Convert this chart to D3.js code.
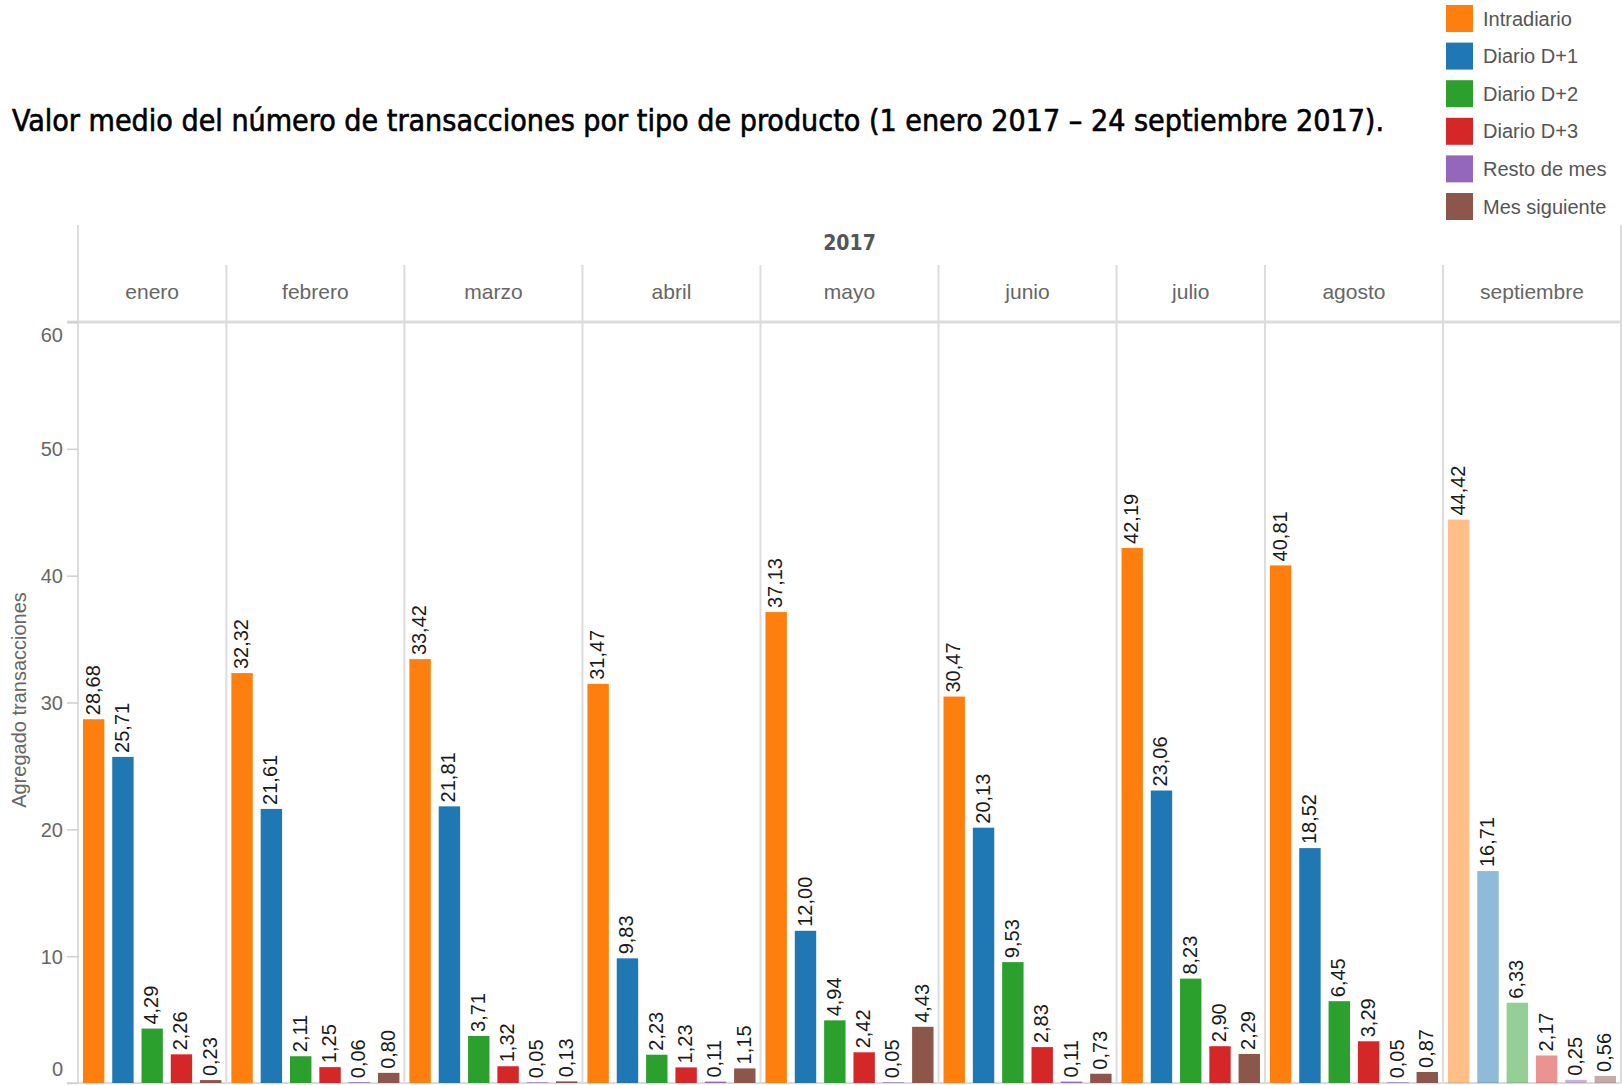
<!DOCTYPE html>
<html>
<head>
<meta charset="utf-8">
<script src="https://cdn.jsdelivr.net/npm/d3@7"></script>
<style>
  html, body { margin: 0; padding: 0; background: #fff; }
  svg { display: block; }
</style>
</head>
<body>
<svg id="chart" width="1622" height="1085"></svg>
<script>
// ---- data ----
const title = "Valor medio del número de transacciones por tipo de producto (1 enero 2017 – 24 septiembre 2017).";
const year = "2017";
const months = ["enero","febrero","marzo","abril","mayo","junio","julio","agosto","septiembre"];
const seriesNames = ["Intradiario","Diario D+1","Diario D+2","Diario D+3","Resto de mes","Mes siguiente"];
const intradiario = [28.68, 32.32, 33.42, 31.47, 37.13, 30.47, 42.19, 40.81, 44.42];
const diarioD1    = [25.71, 21.61, 21.81,  9.83, 12.00, 20.13, 23.06, 18.52, 16.71];
const diarioD2    = [ 4.29,  2.11,  3.71,  2.23,  4.94,  9.53,  8.23,  6.45,  6.33];
const diarioD3    = [ 2.26,  1.25,  1.32,  1.23,  2.42,  2.83,  2.90,  3.29,  2.17];
const restoDeMes  = [ null,  0.06,  0.05,  0.11,  0.05,  0.11,  null,  0.05,  0.25];
const mesSiguiente= [ 0.23,  0.80,  0.13,  1.15,  4.43,  0.73,  2.29,  0.87,  0.56];
const yTicks = [0, 10, 20, 30, 40, 50, 60];
const yTitle = "Agregado transacciones";
const colors = ["#ff7f0e","#1f77b4","#2ca02c","#d62728","#9467bd","#8c564b"];
const fadedMonth = "septiembre";

const seriesValues = [intradiario, diarioD1, diarioD2, diarioD3, restoDeMes, mesSiguiente];

// ---- layout ----
const svg = d3.select("#chart");
const plotL = 78, plotR = 1621, plotT = 322, plotB = 1083;
const headerTop = 225, monthTop = 265;
const SANS = "'Liberation Sans', Arial, sans-serif";
const COND = "'DejaVu Sans Condensed', 'DejaVu Sans', sans-serif";
const gridCol = "#dcdcdc";
const fmt = v => d3.format(".2f")(v).replace(".", ",");

// per-month category lists (only present values)
const panels = months.map((m, mi) => ({
  month: m,
  items: seriesNames.map((s, si) => ({ series: s, si, value: seriesValues[si][mi] }))
                    .filter(d => d.value !== null && d.value !== undefined)
}));
let cum = 0;
panels.forEach(p => { p.start = cum; cum += p.items.length; p.end = cum; });
const slotX = d3.scaleLinear().domain([0, cum]).range([plotL, plotR]);
const y = d3.scaleLinear().domain([0, 60]).range([plotB, plotT]);
const color = d3.scaleOrdinal().domain(seriesNames).range(colors);

// ---- title ----
svg.append("text")
  .attr("x", 12).attr("y", 131)
  .attr("font-family", COND)
  .attr("font-stretch", "condensed")
  .attr("font-size", 30)
  .attr("fill", "#000")
  .attr("stroke", "#000").attr("stroke-width", 0.6)
  .attr("textLength", 1372)
  .attr("lengthAdjust", "spacingAndGlyphs")
  .text(title);

// ---- legend ----
const legend = svg.append("g");
seriesNames.forEach((s, i) => {
  const g = legend.append("g").attr("transform", `translate(1446, ${5 + i * 37.6})`);
  g.append("rect").attr("width", 27).attr("height", 27).attr("fill", color(s));
  g.append("text").attr("x", 37).attr("y", 13.5).attr("dy", "0.35em")
    .attr("font-family", SANS).attr("font-size", 20).attr("fill", "#555").text(s);
});

// ---- frame / header ----
const frame = svg.append("g");
frame.append("line").attr("x1", plotL).attr("x2", plotL).attr("y1", headerTop).attr("y2", plotB)
  .attr("stroke", gridCol).attr("stroke-width", 2);
frame.append("line").attr("x1", plotR).attr("x2", plotR).attr("y1", headerTop).attr("y2", plotB)
  .attr("stroke", gridCol).attr("stroke-width", 2);
panels.slice(1).forEach(p => {
  const x = slotX(p.start);
  frame.append("line").attr("x1", x).attr("x2", x).attr("y1", monthTop).attr("y2", plotB)
    .attr("stroke", gridCol).attr("stroke-width", 2);
});
frame.append("line").attr("x1", 67).attr("x2", plotR).attr("y1", plotT).attr("y2", plotT)
  .attr("stroke", gridCol).attr("stroke-width", 3);
frame.append("line").attr("x1", 67).attr("x2", plotR).attr("y1", plotB).attr("y2", plotB)
  .attr("stroke", gridCol).attr("stroke-width", 2);

svg.append("text")
  .attr("x", (plotL + plotR) / 2).attr("y", 243).attr("dy", "0.35em")
  .attr("text-anchor", "middle")
  .attr("font-family", COND).attr("font-stretch", "condensed").attr("font-weight", "bold").attr("font-size", 21)
  .attr("fill", "#555").text(year);

panels.forEach(p => {
  svg.append("text")
    .attr("x", (slotX(p.start) + slotX(p.end)) / 2).attr("y", 292).attr("dy", "0.35em")
    .attr("text-anchor", "middle")
    .attr("font-family", SANS).attr("font-size", 21)
    .attr("fill", "#666").text(p.month);
});

// ---- y axis ----
const yAxis = svg.append("g").attr("transform", `translate(${plotL},0)`)
  .call(d3.axisLeft(y).tickValues(yTicks).tickSize(11).tickPadding(4).tickFormat(d3.format("d")));
yAxis.select(".domain").remove();
yAxis.selectAll(".tick line").attr("stroke", "#cfcfcf").attr("stroke-width", 1.5);
yAxis.selectAll(".tick text")
  .attr("font-family", SANS).attr("font-size", 20).attr("fill", "#666")
  .attr("dy", d => d === 0 ? "-0.4em" : d === 60 ? "0.95em" : "0.35em");

svg.append("text")
  .attr("transform", `translate(26, ${700}) rotate(-90)`)
  .attr("text-anchor", "middle")
  .attr("font-family", SANS).attr("font-size", 20).attr("fill", "#666")
  .text(yTitle);

// ---- bars ----
const barsG = svg.append("g");
panels.forEach(p => {
  const x = d3.scaleBand()
    .domain(p.items.map(d => d.series))
    .range([slotX(p.start), slotX(p.end)])
    .paddingInner(0.27).paddingOuter(0.17);
  const faded = p.month === fadedMonth;
  const g = barsG.append("g");
  g.selectAll("rect").data(p.items).join("rect")
    .attr("x", d => x(d.series))
    .attr("width", x.bandwidth())
    .attr("y", d => y(d.value))
    .attr("height", d => y(0) - y(d.value))
    .attr("fill", d => color(d.series))
    .attr("fill-opacity", faded ? 0.5 : 1);
  g.selectAll("text").data(p.items).join("text")
    .attr("transform", d => `translate(${x(d.series) + x.bandwidth() / 2 - 1}, ${y(d.value) - 4}) rotate(-90)`)
    .attr("dy", "0.35em")
    .attr("font-family", SANS).attr("font-size", 20).attr("fill", "#1a1a1a")
    .text(d => fmt(d.value));
});
</script>
</body>
</html>
